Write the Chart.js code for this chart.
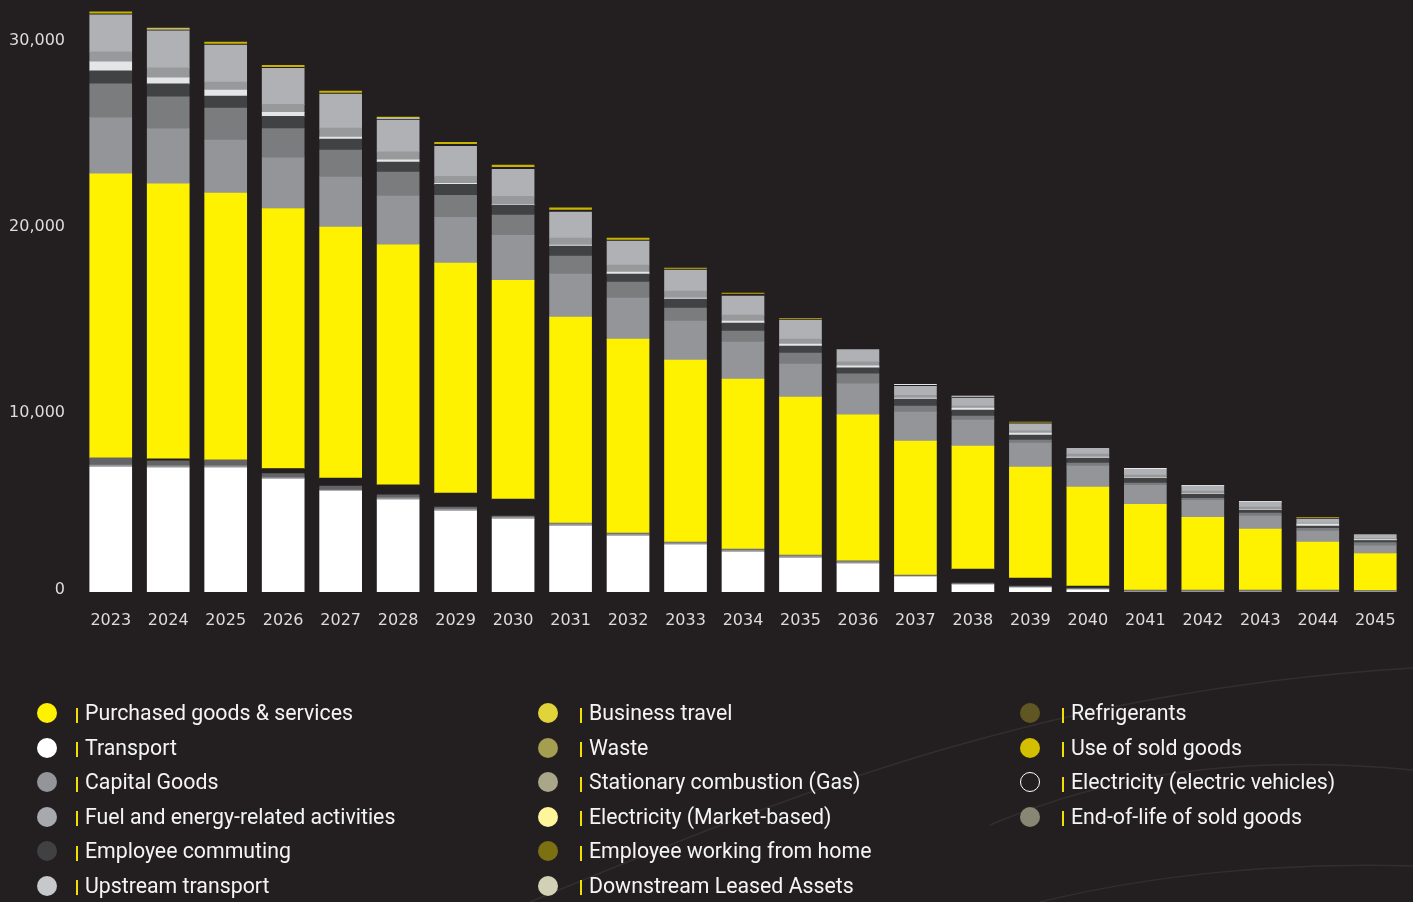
<!DOCTYPE html>
<html>
<head>
<meta charset="utf-8">
<script src="https://cdn.jsdelivr.net/npm/chart.js@4.4.1/dist/chart.umd.min.js"></script>
<style>
  html, body { margin:0; padding:0; background:#231f20; }
  body { width:1413px; height:902px; position:relative; overflow:hidden; }
  #deco { position:absolute; left:0; top:0; width:1413px; height:902px; }
  #chartBox { position:absolute; left:0; top:0; width:1413px; height:640px; }
  #legend { position:absolute; left:0; top:0; width:1413px; height:902px; font-family:Roboto, sans-serif; font-size:21.3px; color:#f4f4f4; }
  .dot { position:absolute; width:20px; height:20px; border-radius:50%; box-sizing:border-box; }
  .sep { position:absolute; width:2.5px; height:15px; background:#f2e000; }
  .txt { position:absolute; height:30px; line-height:30px; white-space:nowrap; }
</style>
</head>
<body>
<svg id="deco" width="1413" height="902" viewBox="0 0 1413 902">
  <path d="M 530 902 C 800 790, 1050 690, 1413 668" fill="none" stroke="rgba(255,255,255,0.07)" stroke-width="1.5"/>
  <path d="M 990 825 C 1120 770, 1250 755, 1413 770" fill="none" stroke="rgba(255,255,255,0.07)" stroke-width="1.5"/>
  <path d="M 1040 902 C 1150 875, 1280 862, 1413 866" fill="none" stroke="rgba(255,255,255,0.07)" stroke-width="1.5"/>
</svg>
<div id="chartBox"><canvas id="c" width="1413" height="640"></canvas></div>
<div id="legend"></div>
<script>
// ---------- data ----------
const years = ['2023','2024','2025','2026','2027','2028','2029','2030','2031','2032','2033','2034','2035','2036','2037','2038','2039','2040','2041','2042','2043','2044','2045'];

const transport          = [6720,6670,6670,6070,5430,4950,4350,3920,3550,3010,2530,2150,1830,1510,810,380,220,110,0,0,0,0,0];
const electricityMarket  = [110,110,110,80,50,110,110,110,110,110,110,110,110,110,50,50,50,50,50,50,50,50,50];
const stationaryGas      = [380,270,320,220,220,160,110,50,50,50,50,50,50,50,50,50,50,50,50,50,50,50,30];
const electricityEV      = [0,110,0,270,430,540,750,910,0,0,0,0,0,0,0,750,430,110,0,0,0,0,0];
const purchasedGoods     = [15270,14780,14350,13980,13490,12900,12360,11770,11070,10430,9780,9140,8490,7850,7200,6610,5970,5320,4620,3920,3280,2580,1990];
const capitalGoods       = [3010,2960,2850,2740,2690,2630,2470,2420,2310,2200,2100,1990,1770,1670,1560,1400,1290,1130,1020,910,700,590,430];
const businessTravel     = [1830,1720,1720,1560,1450,1290,1180,1080,970,860,700,590,590,540,320,220,160,160,110,110,160,160,160];
const employeeCommuting  = [700,700,650,650,590,540,590,540,540,430,480,430,380,320,380,320,270,270,270,220,160,110,110];
const upstreamTransport  = [480,320,320,220,110,110,50,50,50,110,50,110,110,110,50,110,110,50,50,50,50,110,50];
const waste              = [540,540,430,430,480,430,380,430,380,380,380,320,270,220,160,110,110,160,110,110,110,50,50];
const fuelEnergy         = [1990,1990,1990,1940,1830,1720,1610,1450,1400,1290,1130,1020,1020,650,480,430,380,320,320,270,270,220,220];
const refrigerants       = [50,50,50,50,50,50,110,110,110,50,50,110,50,0,50,50,50,0,0,0,0,50,0];
const downstreamLeased   = [0,50,0,0,0,50,0,0,0,0,0,0,0,0,50,50,0,0,50,50,50,0,0];
const useOfSoldGoods     = [110,50,110,110,110,50,110,110,110,110,50,50,50,0,0,0,50,0,0,0,0,50,0];

const yTickValues = [0, 10000, 20000, 30000];
const yTickLabels = ['0', '10,000', '20,000', '30,000'];

const legendLabels = [
  'Purchased goods & services','Transport','Capital Goods','Fuel and energy-related activities','Employee commuting','Upstream transport',
  'Business travel','Waste','Stationary combustion (Gas)','Electricity (Market-based)','Employee working from home','Downstream Leased Assets',
  'Refrigerants','Use of sold goods','Electricity (electric vehicles)','End-of-life of sold goods'
];
const legendColors = [
  '#fff200','#ffffff','#939598','#a7a9ac','#414042','#c7c8ca',
  '#e0d43a','#a59d4f','#a9a68a','#fff59a','#7b7012','#d2d1b5',
  '#5f5624','#d4be00','hollow','#888774'
];

// ---------- datasets (bottom to top) ----------
const BG = '#231f20';
const series = [
  ['Transport', transport, '#ffffff'],
  ['Electricity (Market-based)', electricityMarket, '#939598'],
  ['Stationary combustion (Gas)', stationaryGas, '#646466'],
  ['Electricity (electric vehicles)', electricityEV, BG],
  ['Purchased goods & services', purchasedGoods, '#fff200'],
  ['Capital Goods', capitalGoods, '#939598'],
  ['Business travel', businessTravel, '#7b7c7e'],
  ['Employee commuting', employeeCommuting, '#414244'],
  ['Upstream transport', upstreamTransport, '#e4e5e6'],
  ['Waste', waste, '#98999b'],
  ['Fuel and energy-related activities', fuelEnergy, '#b0b1b4'],
  ['Refrigerants', refrigerants, BG],
  ['Downstream Leased Assets', downstreamLeased, '#e6e7e8'],
  ['Use of sold goods', useOfSoldGoods, '#c8b400']
];
const datasets = series.map(([label, arr, color]) => ({
  label,
  data: arr.map(v => v === 0 ? null : v),
  backgroundColor: color,
  borderWidth: 0,
  barPercentage: 0.731,
  categoryPercentage: 1.0,
  inflateAmount: 0.33
}));

const tickFont = { family: "'DejaVu Sans', sans-serif", size: 16 };

new Chart(document.getElementById('c'), {
  type: 'bar',
  data: { labels: years, datasets },
  options: {
    responsive: false,
    animation: false,
    devicePixelRatio: 1,
    layout: { padding: { top: 8, right: 9, left: 0, bottom: 0 } },
    plugins: { legend: { display: false }, tooltip: { enabled: false } },
    scales: {
      x: {
        stacked: true,
        grid: { display: false, drawTicks: false },
        border: { display: false },
        ticks: { color: '#dcdcdc', font: tickFont, padding: 19, maxRotation: 0, autoSkip: false },
        afterFit: s => { s.height = 48; s.paddingLeft = 0; s.paddingRight = 0; }
      },
      y: {
        stacked: true,
        min: 0,
        max: 31400,
        grid: { display: false, drawTicks: false },
        border: { display: false },
        afterBuildTicks: s => { s.ticks = yTickValues.map(v => ({ value: v })); },
        afterFit: s => { s.width = 82; s.paddingTop = 0; s.paddingBottom = 0; },
        ticks: {
          color: '#dcdcdc',
          font: tickFont,
          padding: 17,
          labelOffset: 7,
          callback: (v, i) => i === 0 ? [yTickLabels[0], ''] : yTickLabels[i]
        }
      }
    }
  }
});

// ---------- legend ----------
const legend = document.getElementById('legend');
const colDot = [47, 548, 1030];
const colSep = [75.5, 579.5, 1061.5];
const colTxt = [85, 589, 1071];
const colStart = [0, 6, 12];
const colCount = [6, 6, 4];
for (let c = 0; c < 3; c++) {
  for (let r = 0; r < colCount[c]; r++) {
    const idx = colStart[c] + r;
    const cy = 713.3 + r * 34.5;
    const dot = document.createElement('div');
    dot.className = 'dot';
    dot.style.left = (colDot[c] - 10) + 'px';
    dot.style.top = (cy - 10) + 'px';
    if (legendColors[idx] === 'hollow') {
      dot.style.border = '1.5px solid #ffffff';
      dot.style.background = BG;
    } else {
      dot.style.background = legendColors[idx];
    }
    legend.appendChild(dot);
    const sep = document.createElement('div');
    sep.className = 'sep';
    sep.style.left = colSep[c] + 'px';
    sep.style.top = (cy - 5.5) + 'px';
    legend.appendChild(sep);
    const t = document.createElement('div');
    t.className = 'txt';
    t.style.left = colTxt[c] + 'px';
    t.style.top = (cy - 15) + 'px';
    t.textContent = legendLabels[idx];
    legend.appendChild(t);
  }
}
</script>
</body>
</html>
